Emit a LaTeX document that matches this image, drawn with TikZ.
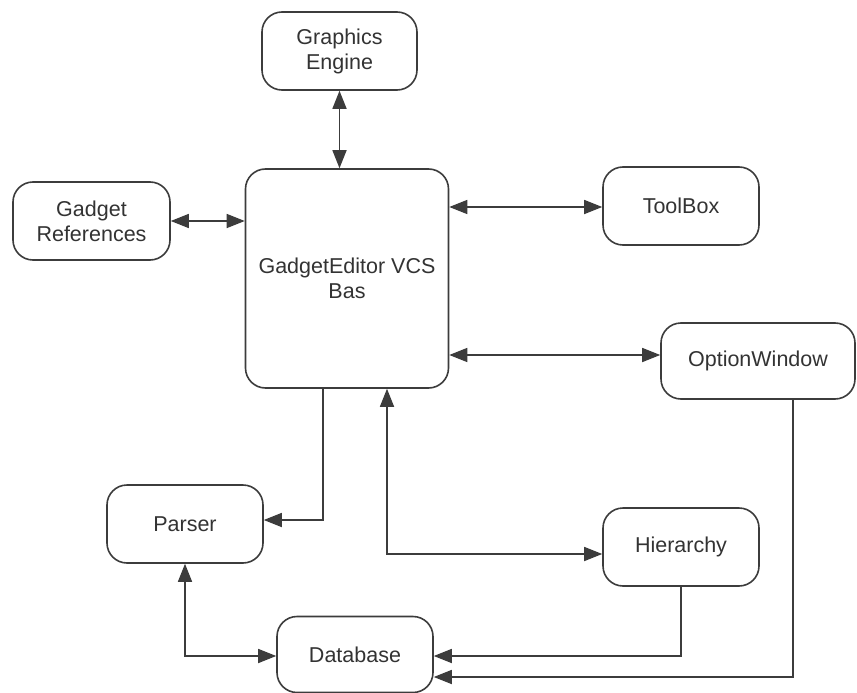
\documentclass[tikz,border=0pt]{standalone}
\usepackage{fontspec}
\setmainfont{Liberation Sans}
\usetikzlibrary{arrows.meta}
\definecolor{ln}{HTML}{3C3C3C}
\definecolor{tx}{HTML}{333333}
\begin{document}
\begin{tikzpicture}[x=1pt,y=-1pt,
  box/.style={draw=ln, line width=1.6pt, rounded corners=20pt, fill=white,
    align=center, text=tx, inner sep=0pt,
    font=\fontsize{21.5}{25}\selectfont},
  conn/.style={draw=ln, line width=1.6pt},
  tip/.style={-{Triangle[length=18pt,width=14pt]}},
  tips/.style={{Triangle[length=18pt,width=14pt]}-{Triangle[length=18pt,width=14pt]}}
]
\useasboundingbox[fill=white] (0,0) rectangle (857,693);
\node[box, minimum width=155pt, minimum height=78pt] (ge) at (339.5,51) {Graphics\\Engine};
\node[box, minimum width=157pt, minimum height=78pt] (gr) at (91.5,221) {Gadget\\References};
\node[box, minimum width=203pt, minimum height=219pt] (main) at (347,278.5) {GadgetEditor VCS\\Bas};
\node[box, minimum width=156pt, minimum height=78pt] (tb) at (681,206) {ToolBox};
\node[box, minimum width=194pt, minimum height=76pt] (ow) at (758,361) {OptionWindow};
\node[box, minimum width=156pt, minimum height=78pt] (parser) at (185,524) {Parser};
\node[box, minimum width=156pt, minimum height=78pt] (hier) at (681,547) {Hierarchy};
\node[box, minimum width=156pt, minimum height=76pt] (db) at (355,654.5) {Database};

\draw[conn, tips] (ge.south) -- (ge.south |- main.north);
\draw[conn, tips] (gr.east |- 0,221) -- (main.west |- 0,221);
\draw[conn, tips] (main.east |- 0,207) -- (tb.west |- 0,207);
\draw[conn, tips] (main.east |- 0,355) -- (ow.west |- 0,355);
\draw[conn, tip] (main.south -| 323,0) |- (parser.east |- 0,520);
\draw[conn, tips] (main.south -| 387,0) |- (hier.west |- 0,554);
\draw[conn, tips] (parser.south) |- (db.west |- 0,656);
\draw[conn, tip] (hier.south) |- (db.east |- 0,656);
\draw[conn, tip] (ow.south -| 793,0) |- (db.east |- 0,677);
\end{tikzpicture}
\end{document}
